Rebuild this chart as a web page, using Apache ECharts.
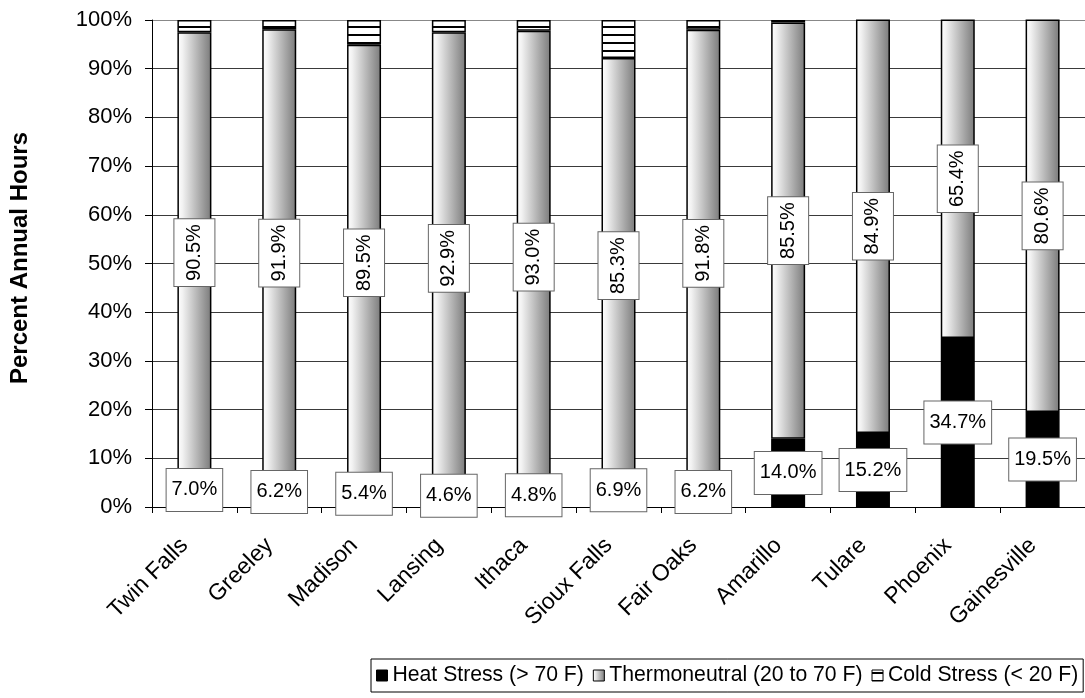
<!DOCTYPE html>
<html>
<head>
<meta charset="utf-8">
<script src="https://cdn.jsdelivr.net/npm/echarts@6/dist/echarts.min.js"></script>
<style>
html,body{margin:0;padding:0;background:#fff;}
#chart{width:1085px;height:698px;}
</style>
</head>
<body>
<div id="chart"></div>
<script>
const categories = ['Twin Falls','Greeley','Madison','Lansing','Ithaca','Sioux Falls','Fair Oaks','Amarillo','Tulare','Phoenix','Gainesville'];
const heatStress = [7.0, 6.2, 5.4, 4.6, 4.8, 6.9, 6.2, 14.0, 15.2, 34.7, 19.5];
const thermoneutral = [90.5, 91.9, 89.5, 92.9, 93.0, 85.3, 91.8, 85.5, 84.9, 65.4, 80.6];
const coldStress = [2.5, 1.9, 5.1, 2.5, 2.2, 7.8, 2.0, 0.5, 0, 0, 0];
const yTicks = [0,10,20,30,40,50,60,70,80,90,100];
const seriesNames = ['Heat Stress (> 70 F)', 'Thermoneutral (20 to 70 F)', 'Cold Stress (< 20 F)'];

const FONT = '"Liberation Sans", Arial, sans-serif';

// stripe pattern for cold stress
const pc = document.createElement('canvas');
pc.width = 4; pc.height = 8;
const pctx = pc.getContext('2d');
pctx.fillStyle = '#ffffff'; pctx.fillRect(0,0,4,8);
pctx.fillStyle = '#000000'; pctx.fillRect(0,2,4,2);

const grad = new echarts.graphic.LinearGradient(0,0,1,0,[
  {offset:0, color:'#ffffff'},
  {offset:0.15, color:'#f2f2f2'},
  {offset:1, color:'#7a7a7a'}
]);

const labelBox = {
  show: true,
  position: 'inside',
  color: '#000',
  fontFamily: FONT,
  fontSize: 20,
  lineHeight: 20,
  backgroundColor: '#fff',
  borderColor: '#666',
  borderWidth: 1,
  formatter: p => p.value.toFixed(1) + '%'
};

const chart = echarts.init(document.getElementById('chart'), null, {renderer:'canvas'});
chart.setOption({
  animation: false,
  backgroundColor: '#fff',
  grid: {left:152, right:-10, top:20, bottom:191, containLabel:false},
  legend: {
    data: seriesNames,
    left: 371, top: 659,
    orient: 'horizontal',
    padding: [6,5,6,5],
    itemGap: 9,
    itemWidth: 11, itemHeight: 11,
    borderColor: '#000', borderWidth: 1,
    icon: 'rect',
    itemStyle: {borderWidth: 1, borderColor: '#000'},
    textStyle: {fontFamily: FONT, fontSize: 21.2, lineHeight: 21, color: '#000'}
  },
  xAxis: {
    type: 'category',
    data: categories,
    axisLine: {show:true, lineStyle:{color:'#000', width:1}},
    axisTick: {show:true, alignWithLabel:false, length:6, lineStyle:{color:'#000'}},
    axisLabel: {rotate:45, margin:25, padding:[0,14,0,0], fontFamily:FONT, fontSize:23, color:'#000', interval:0},
    splitLine: {show:false}
  },
  yAxis: {
    type: 'value',
    min: yTicks[0], max: yTicks[yTicks.length-1], interval: 10,
    axisLine: {show:true, lineStyle:{color:'#000', width:1}},
    axisTick: {show:true, length:7, lineStyle:{color:'#000'}},
    axisLabel: {margin:20, fontFamily:FONT, fontSize:22, color:'#000', formatter: v => v + '%'},
    splitLine: {show:true, lineStyle:{color:['#3a3a3a','#3a3a3a','#3a3a3a','#3a3a3a','#3a3a3a','#3a3a3a','#3a3a3a','#3a3a3a','#3a3a3a','#3a3a3a','#888888'], width:1}}
  },
  graphic: [{
    type: 'text',
    x: 20, y: 258,
    rotation: Math.PI/2,
    style: {text:'Percent Annual Hours', font:'bold 24px ' + FONT, fill:'#000', textAlign:'center', textVerticalAlign:'middle'}
  }],
  series: [
    {
      name: seriesNames[0], type: 'bar', stack: 'total', barWidth: 34, z: 3,
      data: heatStress,
      itemStyle: {color:'#000', borderColor:'#000', borderWidth:1.5},
      label: Object.assign({}, labelBox, {padding:[11,5,11,5]})
    },
    {
      name: seriesNames[1], type: 'bar', stack: 'total', barWidth: 34, z: 2,
      data: thermoneutral,
      itemStyle: {color: grad, borderColor:'#000', borderWidth:1.5},
      label: Object.assign({}, labelBox, {rotate:90, padding:[10,5,10,5]})
    },
    {
      name: seriesNames[2], type: 'bar', stack: 'total', barWidth: 34, z: 2,
      data: coldStress,
      itemStyle: {color: {image: pc, repeat: 'repeat'}, borderColor:'#000', borderWidth:1.5},
      label: {show:false}
    }
  ]
});
</script>
</body>
</html>
